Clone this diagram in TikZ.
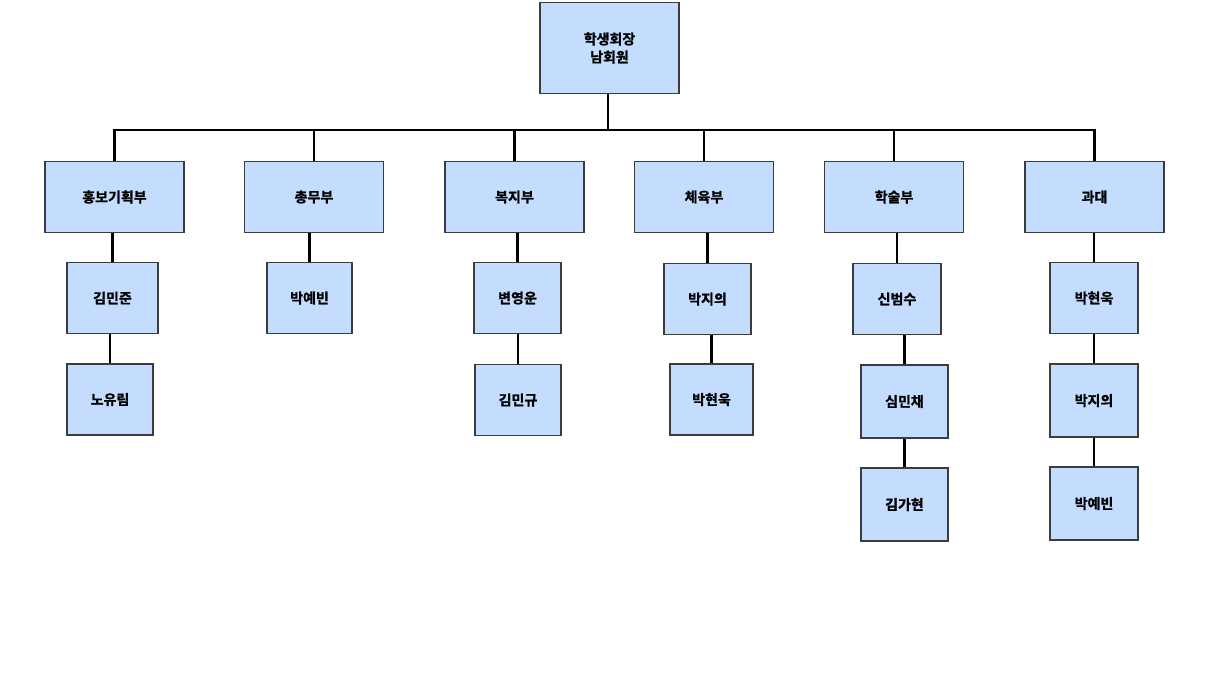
\documentclass[tikz,border=0pt]{standalone}
\usepackage{fontspec}
\setmainfont{Noto Sans CJK KR}[BoldFont={Noto Sans CJK KR Bold}, BoldFeatures={FakeBold=1.2}]
\usetikzlibrary{positioning}
\definecolor{caja}{HTML}{C4DDFF}
\definecolor{borde}{HTML}{3C3C3C}
\definecolor{tinta}{HTML}{000000}

\begin{document}
\begin{tikzpicture}[x=1pt, y=-1pt, font=\bfseries\fontsize{14}{18}\selectfont,
    caja/.style={draw=borde, fill=caja, line width=1.1pt, inner sep=0pt, align=center,
      minimum width=87pt, minimum height=71pt},
    depto/.style={caja, minimum width=139pt, minimum height=71pt},
    enlace/.style={tinta, line width=2.4pt}]
        \useasboundingbox (0,0) rectangle (1210,673);
        % presidente y bus
        \node[caja, minimum width=139pt, minimum height=91pt] (pres) at (609.5,48) {학생회장\\남회원};
        \coordinate (bus) at (608,130);
        \draw[enlace] (pres.south -| bus) -- (bus);
        % departamentos
        \foreach \n/\x/\t in {hong/114.5/홍보기획부, chong/314/총무부, bok/514.5/복지부,
                              che/704/체육부, hak/894/학술부, gwa/1094.5/과대}
          {\node[depto] (\n) at (\x,197) {\t};
           \draw[enlace] (\n.north) |- (bus);}
        % miembros
        \node[caja, minimum width=91pt] (hong1) at (112.5,298) {김민준};
        \node[caja, minimum width=86pt] (hong2) at (110,399.5) {노유림};
        \node[caja, minimum width=85pt] (chong1) at (309.5,298) {박예빈};
        \node[caja] (bok1) at (517.5,298) {변영운};
        \node[caja, minimum width=86pt] (bok2) at (518,400) {김민규};
        \node[caja] (che1) at (707.5,299) {박지의};
        \node[caja, minimum width=83pt] (che2) at (711.5,399.5) {박현욱};
        \node[caja, minimum width=88pt] (hak1) at (897,299) {신범수};
        \node[caja, minimum height=73pt] (hak2) at (904.5,401.5) {심민채};
        \node[caja, minimum height=73pt] (hak3) at (904.5,504.5) {김가현};
        \node[caja, minimum width=88pt] (gwa1) at (1094,298) {박현욱};
        \node[caja, minimum width=88pt, minimum height=73pt] (gwa2) at (1094,400.5) {박지의};
        \node[caja, minimum width=88pt, minimum height=73pt] (gwa3) at (1094,503.5) {박예빈};
        \foreach \a/\b in {hong/hong1, hong1/hong2, chong/chong1, bok/bok1, bok1/bok2,
                           che/che1, che1/che2, hak/hak1, hak1/hak2, hak2/hak3,
                           gwa/gwa1, gwa1/gwa2, gwa2/gwa3}
          \draw[enlace] (\b.north) -- (\b.north |- \a.south);
      \end{tikzpicture}
\end{document}
